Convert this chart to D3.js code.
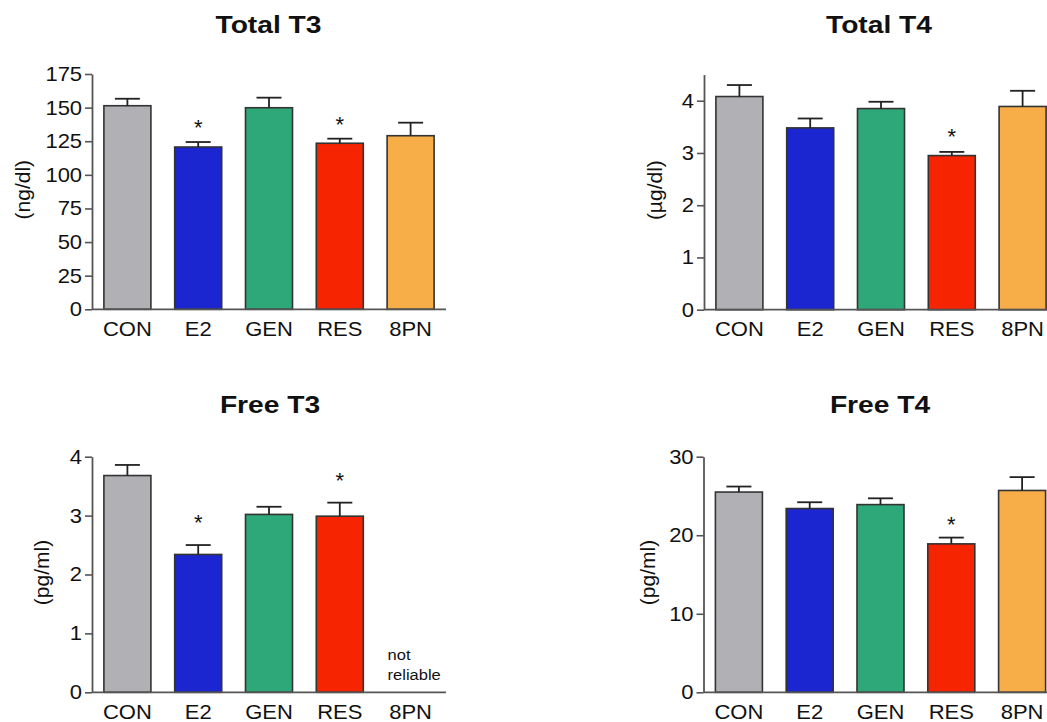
<!DOCTYPE html>
<html><head><meta charset="utf-8">
<script src="https://cdn.jsdelivr.net/npm/d3@7"></script>
<style>
body{margin:0;background:#fff}
svg{display:block}
text{font-family:"Liberation Sans",Arial,Helvetica,sans-serif;fill:#111}
</style>
</head><body>
<svg id="c" width="1047" height="722"></svg>
<script>
// ---------- data ----------
const categories = ["CON", "E2", "GEN", "RES", "8PN"];
const barColors = ["#b1b0b5", "#1b26d1", "#2fa879", "#f62400", "#f8ae48"];
const titles = ["Total T3", "Total T4", "Free T3", "Free T4"];
const yLabels = ["(ng/dl)", "(µg/dl)", "(pg/ml)", "(pg/ml)"];

const totalT3Mean = [151.4, 120.7, 149.9, 123.5, 129.1];
const totalT3Sem  = [5.2, 3.7, 7.5, 3.4, 9.7];
const totalT3Sig  = [0, 1, 0, 1, 0];
const totalT3Ticks = [0, 25, 50, 75, 100, 125, 150, 175];

const totalT4Mean = [4.08, 3.48, 3.85, 2.95, 3.89];
const totalT4Sem  = [0.22, 0.18, 0.13, 0.07, 0.30];
const totalT4Sig  = [0, 0, 0, 1, 0];
const totalT4Ticks = [0, 1, 2, 3, 4];

const freeT3Mean = [3.68, 2.34, 3.02, 2.99, null];
const freeT3Sem  = [0.18, 0.16, 0.13, 0.23, null];
const freeT3Sig  = [0, 1, 0, 1, 0];
const freeT3Ticks = [0, 1, 2, 3, 4];
const freeT3Note = ["not", "reliable"];

const freeT4Mean = [25.5, 23.4, 23.9, 18.9, 25.7];
const freeT4Sem  = [0.7, 0.8, 0.8, 0.8, 1.7];
const freeT4Sig  = [0, 0, 0, 1, 0];
const freeT4Ticks = [0, 10, 20, 30];

// ---------- layout ----------
const panels = [
  {title: titles[0], ylab: yLabels[0], mean: totalT3Mean, sem: totalT3Sem, sig: totalT3Sig, ticks: totalT3Ticks,
   domain: [0, 175], x0: 92, x1: 446, yTop: 74, yBot: 309.3, titleX: 268.5, titleY: 32.7, ylabX: 23.5, starOff: 20, xPad: 12.5},
  {title: titles[1], ylab: yLabels[1], mean: totalT4Mean, sem: totalT4Sem, sig: totalT4Sig, ticks: totalT4Ticks,
   domain: [0, 4.5], x0: 704, x1: 1058, yTop: 74.6, yBot: 309.7, titleX: 879, titleY: 32.7, ylabX: 655, starOff: 20.5, xPad: 12.5},
  {title: titles[2], ylab: yLabels[2], mean: freeT3Mean, sem: freeT3Sem, sig: freeT3Sig, ticks: freeT3Ticks,
   domain: [0, 4], x0: 92, x1: 446, yTop: 456.7, yBot: 692.3, titleX: 270, titleY: 412.5, ylabX: 41.7, starOff: 28, xPad: 13, note: freeT3Note},
  {title: titles[3], ylab: yLabels[3], mean: freeT4Mean, sem: freeT4Sem, sig: freeT4Sig, ticks: freeT4Ticks,
   domain: [0, 30], x0: 703.5, x1: 1057.5, yTop: 456.7, yBot: 692.3, titleX: 880, titleY: 412.5, ylabX: 648, starOff: 19, xPad: 13}
];

const svg = d3.select("#c");
const TICK_SX = 1.1;

panels.forEach(p => {
  const g = svg.append("g");
  const x = d3.scaleBand().domain(categories).range([p.x0, p.x1]).paddingInner(0.336).paddingOuter(0.168);
  const y = d3.scaleLinear().domain(p.domain).range([p.yBot, p.yTop]);
  const rows = categories.map((c, i) => ({c, i, m: p.mean[i], s: p.sem[i], sig: p.sig[i]}));
  const valid = rows.filter(d => d.m != null);

  // bars
  g.selectAll("rect.bar").data(valid).join("rect")
    .attr("class", "bar")
    .attr("x", d => x(d.c))
    .attr("width", x.bandwidth())
    .attr("y", d => y(d.m))
    .attr("height", d => y(0) - y(d.m))
    .attr("fill", d => barColors[d.i])
    .attr("stroke", "#333")
    .attr("stroke-width", 1.6);

  // error bars
  const cx = d => x(d.c) + x.bandwidth() / 2;
  g.selectAll("line.err").data(valid).join("line")
    .attr("x1", cx).attr("x2", cx)
    .attr("y1", d => y(d.m)).attr("y2", d => y(d.m + d.s))
    .attr("stroke", "#222").attr("stroke-width", 1.8);
  g.selectAll("line.cap").data(valid).join("line")
    .attr("x1", d => cx(d) - 12.5).attr("x2", d => cx(d) + 12.5)
    .attr("y1", d => y(d.m + d.s)).attr("y2", d => y(d.m + d.s))
    .attr("stroke", "#222").attr("stroke-width", 1.8);

  // significance stars
  g.selectAll("text.star").data(valid.filter(d => d.sig)).join("text")
    .attr("x", cx)
    .attr("y", d => y(d.m + d.s) - p.starOff + 13)
    .attr("text-anchor", "middle")
    .attr("font-size", 22)
    .text("*");

  // y axis
  const ya = g.append("g").attr("transform", `translate(${p.x0},0)`)
    .call(d3.axisLeft(y).tickValues(p.ticks).tickFormat(d3.format("d")).tickSize(7).tickSizeOuter(0).tickPadding(2));
  ya.select(".domain").attr("stroke", "#555").attr("stroke-width", 1.8);
  ya.selectAll(".tick line").attr("stroke", "#555").attr("stroke-width", 1.6);
  ya.selectAll(".tick text").attr("font-size", 20).attr("fill", "#111")
    .attr("font-family", "Liberation Sans, Arial, sans-serif")
    .attr("transform", `scale(${TICK_SX},1)`);

  // x axis
  const xa = g.append("g").attr("transform", `translate(0,${p.yBot})`)
    .call(d3.axisBottom(x).tickSize(0).tickSizeOuter(0).tickPadding(p.xPad));
  xa.select(".domain").attr("stroke", "#555").attr("stroke-width", 1.8)
    .attr("d", `M${p.x0},0H${p.x1}`);
  xa.selectAll(".tick text").attr("font-size", 20).attr("fill", "#111")
    .attr("font-family", "Liberation Sans, Arial, sans-serif")
    .attr("dy", "0.71em")
    .attr("transform", `scale(${TICK_SX},1)`);

  // title
  g.append("text")
    .attr("transform", `translate(${p.titleX},${p.titleY}) scale(1.2,1)`)
    .attr("text-anchor", "middle")
    .attr("font-size", 23.5)
    .attr("font-weight", "bold")
    .text(p.title);

  // y label
  g.append("text")
    .attr("transform", `translate(${p.ylabX},${(p.yTop + p.yBot) / 2 - 2}) rotate(-90)`)
    .attr("text-anchor", "middle")
    .attr("dy", "0.33em")
    .attr("font-size", 21)
    .text(p.ylab);

  // note
  if (p.note) {
    const nx = x("8PN") + x.bandwidth() / 2 - 23;
    p.note.forEach((t, k) => {
      g.append("text")
        .attr("transform", `translate(${nx},${p.yBot - 32 + k * 20}) scale(1.1,1)`)
        .attr("font-size", 15)
        .text(t);
    });
  }
});
</script>
</body></html>
